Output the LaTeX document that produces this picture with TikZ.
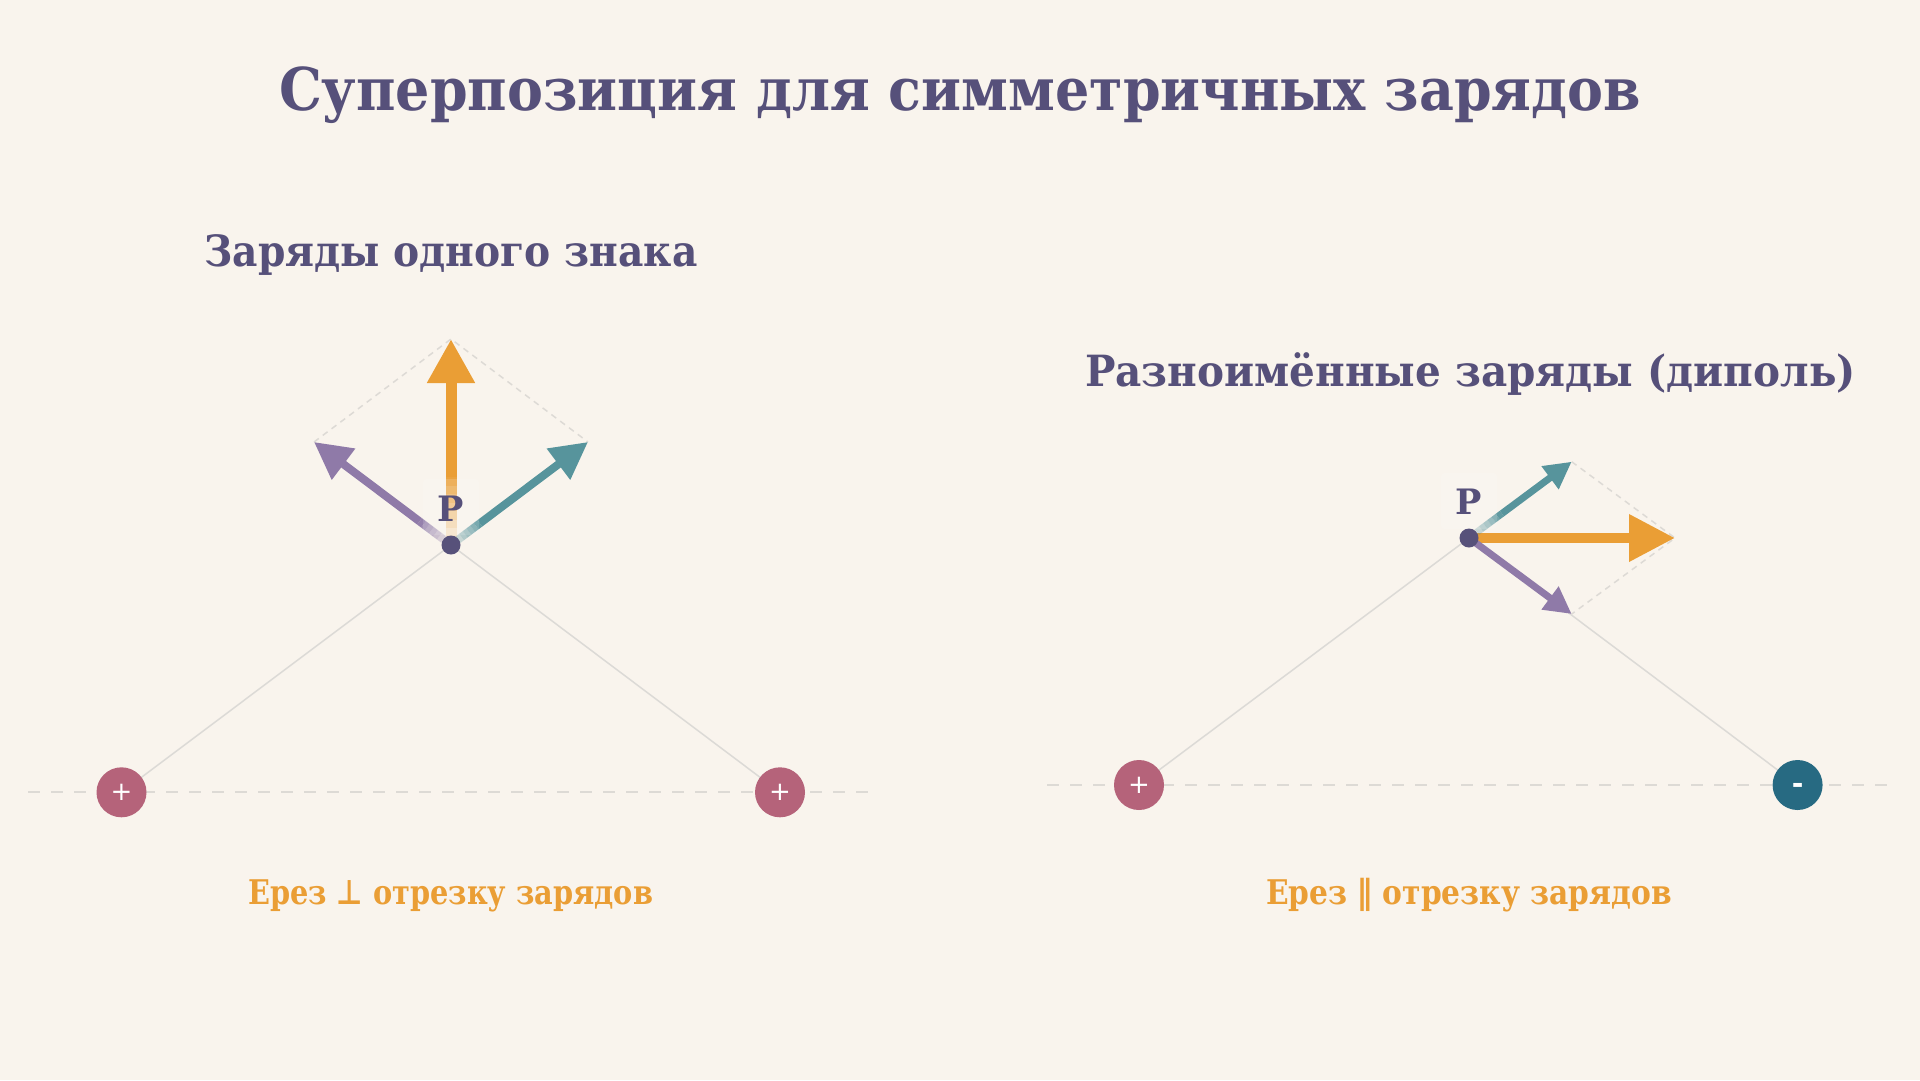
\documentclass[tikz,border=0pt]{standalone}
\usepackage{fontspec}
\setmainfont{DejaVu Serif}
\newfontfamily\symf{DejaVu Sans}
\usetikzlibrary{arrows.meta,calc}
\definecolor{bg}{HTML}{F9F4ED}
\definecolor{ink}{HTML}{56507A}
\definecolor{orng}{HTML}{EA9E35}
\definecolor{purp}{HTML}{8F7AA8}
\definecolor{teal}{HTML}{57949C}
\definecolor{pink}{HTML}{B5637A}
\definecolor{dteal}{HTML}{276A82}
\definecolor{gline}{HTML}{DCDAD6}
\definecolor{dline}{HTML}{DDDAD5}
\definecolor{pdot}{HTML}{57517A}
\newsavebox\fitbox
\newcommand\fitw[2]{\sbox\fitbox{#2}\pgfmathsetmacro\fitfac{#1/\wd\fitbox}\scalebox{\fitfac}[1]{\usebox\fitbox}}
\newcommand\fvec[7]{%
  \foreach \k in {1,...,8}{%
    \pgfmathsetmacro\fa{#7*(\k-1)/8}\pgfmathsetmacro\fb{#7*\k/8}\pgfmathsetmacro\fo{(\k-0.5)/8}%
    \draw[draw=#1, line width=#4, draw opacity=\fo] ($(#2)!\fa!(#3)$) -- ($(#2)!\fb!(#3)$);}
  \draw[draw=#1, fill=#1, line width=#4, -{Triangle[length=#5,width=#6]}] ($(#2)!#7!(#3)$) -- (#3);
}
\tikzset{
  baseline dash/.style={draw=dline, line width=2.5pt, dash pattern=on 12pt off 11pt},
  para dash/.style={draw=dline, line width=1.5pt, dash pattern=on 6pt off 5pt},
  grayline/.style={draw=gline, line width=1.5pt},
  charge/.style={circle, minimum size=50pt, inner sep=0pt, text=white},
  pdotst/.style={circle, fill=pdot, minimum size=19pt, inner sep=0pt},
  plabel/.style={text=ink, font=\bfseries\fontsize{35}{35}\selectfont, anchor=base},
  plbg/.style={fill=white, fill opacity=0.15, rounded corners=4pt, minimum width=56pt, minimum height=56pt},
  titlest/.style={text=ink, font=\bfseries\fontsize{59}{60}\selectfont, anchor=base, inner sep=0pt},
  subst/.style={text=ink, font=\bfseries\fontsize{43}{45}\selectfont, anchor=base, inner sep=0pt},
  notest/.style={text=orng, font=\bfseries\fontsize{34}{36}\selectfont, anchor=base, inner sep=0pt},
}
\begin{document}
\begin{tikzpicture}[x=1pt,y=-1pt]
\fill[bg] (0,0) rectangle (1920,1080);
\useasboundingbox (0,0) rectangle (1920,1080);

% titles
\node[titlest] (title) at (960,110) {\fitw{1362}{Суперпозиция для симметричных зарядов}};
\node[subst] (sub1) at (451,266) {\fitw{493}{Заряды одного знака}};
\node[subst] (sub2) at (1470.5,386.5) {\fitw{771}{Разноимённые заряды (диполь)}};

% ---------- left diagram ----------
\coordinate (P1) at (451,545);
\coordinate (A1) at (314,442);   % purple tip
\coordinate (B1) at (588,442);   % teal tip
\coordinate (S1) at (451,339);   % sum tip
\coordinate (L1s) at (28,792);
\coordinate (L1e) at (874,792);
\draw[baseline dash] (L1s) -- (L1e);
\draw[grayline] (P1) -- (121.5,792.3) coordinate (q1c);
\draw[grayline] (P1) -- (780,792.3) coordinate (q2c);
\draw[para dash] (A1) -- (S1) -- (B1);
\fvec{orng}{P1}{S1}{11pt}{44pt}{45pt}{0.33}
\fvec{purp}{P1}{A1}{8pt}{37pt}{37pt}{0.23}
\fvec{teal}{P1}{B1}{8pt}{37pt}{37pt}{0.21}
\node[plbg] (pbg1) at (451,507) {};
\node[plabel] (pl1) at (451,521.7) {P};
\node[pdotst] (pd1) at (P1) {};
\node[charge, fill=pink, font=\symf\fontsize{26}{26}\selectfont] (q1) at (q1c) {+};
\node[charge, fill=pink, font=\symf\fontsize{26}{26}\selectfont] (q2) at (q2c) {+};
\node[notest] (n1) at (450.6,904) {\fitw{405}{Ерез {\symf ⊥} отрезку зарядов}};

% ---------- right diagram ----------
\coordinate (P2) at (1469,538);
\coordinate (A2) at (1571.7,461.7);  % teal tip
\coordinate (B2) at (1571.7,614);    % purple tip
\coordinate (S2) at (1675,538);      % sum tip
\coordinate (L2s) at (1047,785);
\coordinate (L2e) at (1892,785);
\draw[baseline dash] (L2s) -- (L2e);
\draw[grayline] (P2) -- (1139,785) coordinate (q3c);
\draw[grayline] (P2) -- (1797.6,785) coordinate (q4c);
\draw[para dash] (A2) -- (S2) -- (B2);
\fvec{orng}{P2}{S2}{10pt}{46pt}{45pt}{0}
\fvec{teal}{P2}{A2}{7pt}{27pt}{27pt}{0.32}
\fvec{purp}{P2}{B2}{7pt}{27pt}{27pt}{0}
\node[plbg] (pbg2) at (1469,501) {};
\node[plabel] (pl2) at (1469,514) {P};
\node[pdotst] (pd2) at (P2) {};
\node[charge, fill=pink, font=\symf\fontsize{26}{26}\selectfont] (q3) at (q3c) {+};
\node[charge, fill=dteal, font=\symf\bfseries\fontsize{28}{28}\selectfont] (q4) at (q4c) {\raisebox{-8.5pt}[0pt][0pt]{-}};
\node[notest] (n2) at (1469,904) {\fitw{406}{Ерез {\symf ∥} отрезку зарядов}};
\end{tikzpicture}
\end{document}
